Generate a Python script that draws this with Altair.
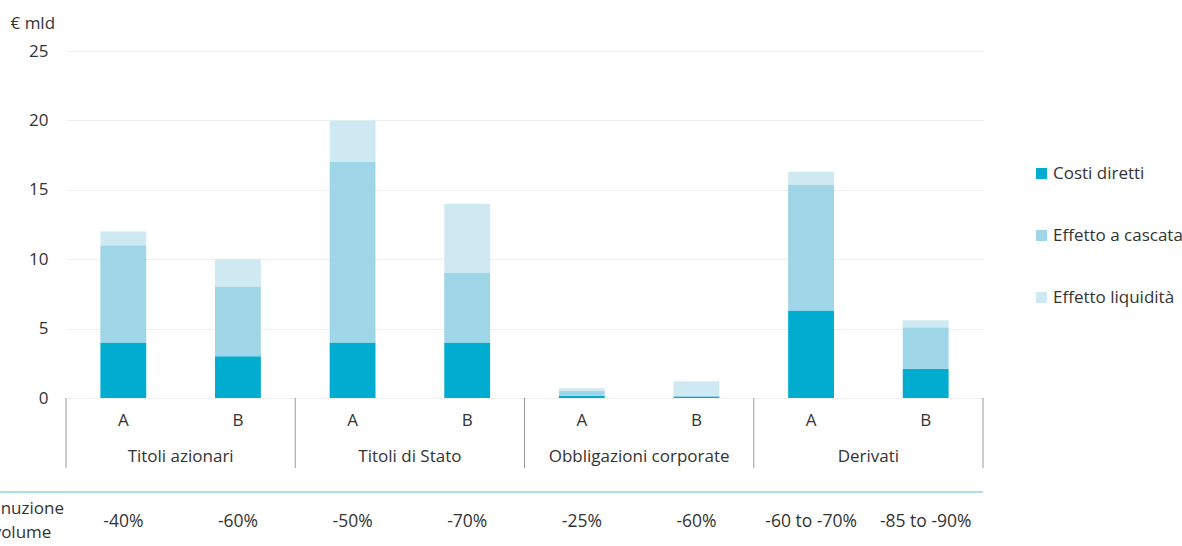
import altair as alt
import pandas as pd

groups = ["Titoli azionari", "Titoli di Stato", "Obbligazioni corporate", "Derivati"]
subs = ["A", "B", "A", "B", "A", "B", "A", "B"]
pct_labels = ["-40%", "-60%", "-50%", "-70%", "-25%", "-60%", "-60 to -70%", "-85 to -90%"]
series = ["Costi diretti", "Effetto a cascata", "Effetto liquidità"]
costi_diretti = [4, 3, 4, 4, 0.17, 0.1, 6.3, 2.1]
effetto_cascata = [7, 5, 13, 5, 0.36, 0.05, 9.05, 3.0]
effetto_liquidita = [1, 2, 3, 5, 0.17, 1.05, 0.95, 0.5]
y_ticks = [0, 5, 10, 15, 20, 25]
row_label = ["Diminuzione", "del volume"]
colors = ["#00ADD0", "#9ED6E8", "#CFE9F2"]

FONT = "Open Sans"
TXT = "#333333"
W, H = 917, 347

rows = []
for s_i, (name, vals) in enumerate(zip(series, [costi_diretti, effetto_cascata, effetto_liquidita])):
    for i, v in enumerate(vals):
        rows.append({"idx": i, "series": name, "ord": s_i, "value": v,
                     "x0": i + 0.3, "x1": i + 0.7})
df = pd.DataFrame(rows)

xscale = alt.Scale(domain=[0, 8], nice=False, zero=False)
xaxis = alt.Axis(labels=False, ticks=False, grid=False, title=None,
                 domainColor="#9a9a9a", domainWidth=1)

bars = alt.Chart(df).transform_stack(
    stack="value", as_=["y0", "y1"], groupby=["idx"], sort=[alt.SortField("ord")]
).mark_bar().encode(
    x=alt.X("x0:Q", scale=xscale, axis=xaxis),
    x2="x1:Q",
    y=alt.Y("y0:Q", scale=alt.Scale(domain=[0, 25], nice=False),
            axis=alt.Axis(values=y_ticks, title="€ mld", titleAngle=0,
                          titleX=-56, titleY=-28, titleAlign="left",
                          titleBaseline="middle", titleFontSize=17,
                          titleFontWeight="normal", titleColor=TXT, titleFont=FONT,
                          labelFontSize=17, labelColor=TXT, labelFont=FONT,
                          labelPadding=18, ticks=False, domain=False,
                          gridColor="#efefef", gridWidth=1)),
    y2="y1:Q",
    color=alt.Color("series:N", scale=alt.Scale(domain=series, range=colors),
                    legend=alt.Legend(title=None, orient="none", legendX=967, legendY=114,
                                      symbolType="square", symbolSize=121,
                                      symbolStrokeWidth=0, labelFontSize=17,
                                      labelFont=FONT, labelColor=TXT, labelOffset=3,
                                      rowPadding=44, padding=0)),
    order=alt.Order("ord:Q"),
)

sub_df = pd.DataFrame({"xc": [i + 0.5 for i in range(8)], "sub": subs, "pct": pct_labels})
sub_text = alt.Chart(sub_df).mark_text(fontSize=17, font=FONT, color=TXT, baseline="middle").encode(
    x=alt.X("xc:Q", scale=xscale, axis=None), y=alt.value(370), text="sub:N")
pct_text = alt.Chart(sub_df).mark_text(fontSize=17.5, font=FONT, color=TXT, baseline="middle").encode(
    x=alt.X("xc:Q", scale=xscale, axis=None), y=alt.value(471), text="pct:N")

grp_df = pd.DataFrame({"xc": [2 * g + 1 for g in range(4)], "grp": groups})
grp_text = alt.Chart(grp_df).mark_text(fontSize=17, font=FONT, color=TXT, baseline="middle").encode(
    x=alt.X("xc:Q", scale=xscale, axis=None), y=alt.value(406), text="grp:N")

sep_df = pd.DataFrame({"xs": [0, 2, 4, 6, 8]})
seps = alt.Chart(sep_df).mark_rule(color="#9a9a9a", strokeWidth=1).encode(
    x=alt.X("xs:Q", scale=xscale, axis=None), y=alt.value(347), y2=alt.value(417))

teal = alt.Chart(pd.DataFrame({"a": [0]})).mark_rule(color="#8FD3E6", strokeWidth=1.5).encode(
    x=alt.value(-66), x2=alt.value(W), y=alt.value(441))

row_df = pd.DataFrame({"t": row_label, "yy": [458, 482]})
row_text = alt.Chart(row_df).mark_text(fontSize=17, font=FONT, color=TXT, align="left",
                                       baseline="middle").encode(
    x=alt.value(-102), y=alt.Y("yy:Q", scale=None, axis=None), text="t:N")

chart = alt.layer(bars, seps, sub_text, grp_text, teal, pct_text, row_text).properties(
    width=W, height=H,
    autosize=alt.AutoSizeParams(type="none"),
    padding={"left": 66, "top": 51, "right": 199, "bottom": 148},
).configure(font=FONT).configure_view(strokeWidth=0, stroke="transparent")

chart.save("out.html", embed_options={"renderer": "svg", "actions": False})
